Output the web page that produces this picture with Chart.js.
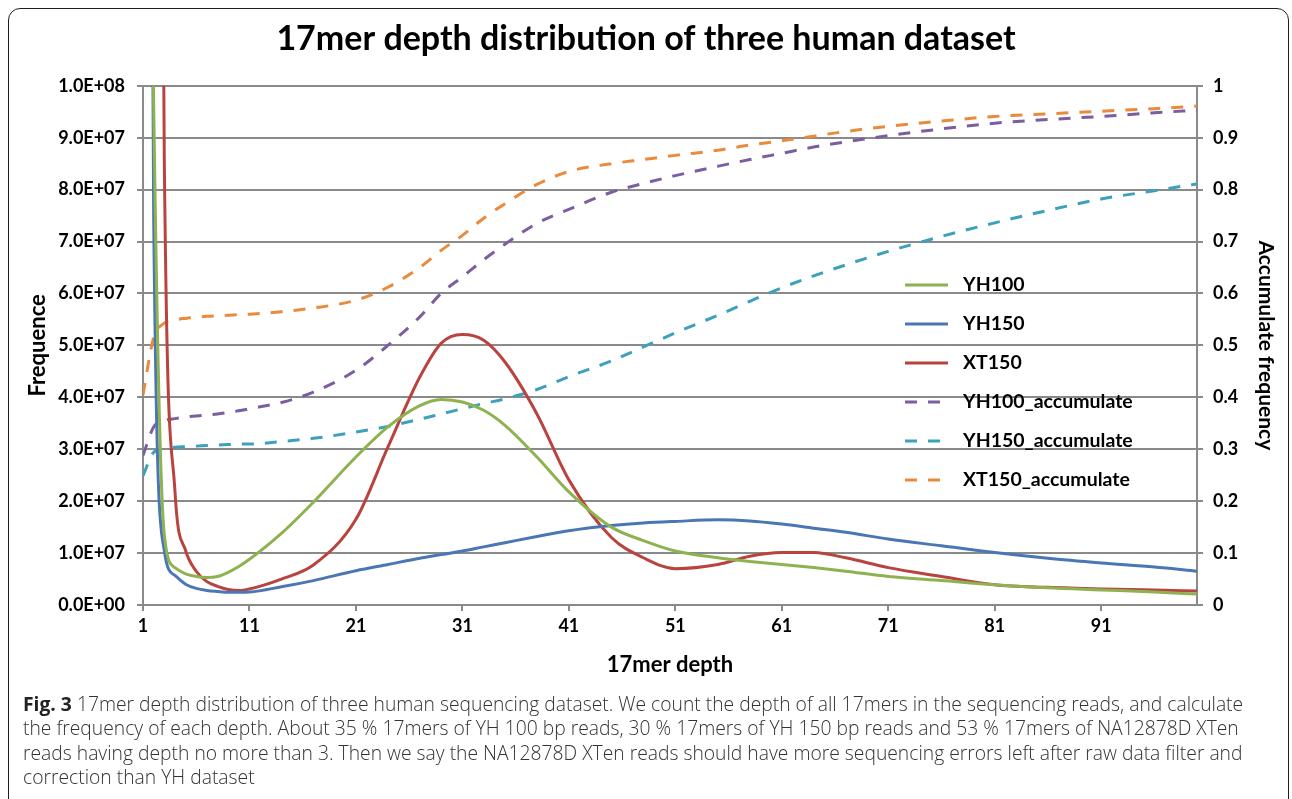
<!DOCTYPE html>
<html>
<head>
<meta charset="utf-8">
<title>17mer depth distribution</title>
<script src="https://cdn.jsdelivr.net/npm/chart.js@4.4.1/dist/chart.umd.min.js"></script>
<style>
    html, body { margin: 0; padding: 0; background: #fff; }
    body { width: 1292px; height: 799px; position: relative; overflow: hidden; }
    #frame {
        position: absolute; left: 8px; top: 8px; width: 1281px; height: 820px;
        border: 1.5px solid #231f20; border-radius: 12px 12px 0 0; box-sizing: border-box;
    }
    #chartBox { position: absolute; left: 0; top: 0; width: 1292px; height: 700px; }
    #caption {
        position: absolute; left: 23px; top: 692px;
        font-family: 'Open Sans', sans-serif; font-weight: 300; font-size: 19.3px;
        line-height: 24.3px; color: #333; white-space: nowrap;
    }
    #caption b { font-weight: 700; color: #222; }
</style>
</head>
<body>
<div id="frame"></div>
<div id="chartBox"><canvas id="depthChart" width="1292" height="700"></canvas></div>
<div id="caption">
    <b>Fig. 3</b> 17mer depth distribution of three human sequencing dataset. We count the depth of all 17mers in the sequencing reads, and calculate<br>
    the frequency of each depth. About 35 % 17mers of YH 100 bp reads, 30 % 17mers of YH 150 bp reads and 53 % 17mers of NA12878D XTen<br>
    reads having depth no more than 3. Then we say the NA12878D XTen reads should have more sequencing errors left after raw data filter and<br>
    correction than YH dataset
</div>
<script>
// Data (depth -> frequency / accumulated frequency)
const depth = [1, 2, 3, 4, 5, 6, 7, 8, 9, 10, 11, 14, 17, 21, 24, 27, 29, 31, 33, 35, 38,
    41, 45, 48, 51, 55, 58, 61, 64, 67, 71, 76, 81, 86, 91, 96, 100];

const yh100 = [3.0e8, 9.7e7, 1.35e7, 7.2e6, 6.0e6, 5.5e6, 5.3e6, 5.5e6, 6.3e6, 7.4e6,
    8.8e6, 1.38e7, 1.98e7, 2.85e7, 3.43e7, 3.84e7, 3.96e7, 3.91e7, 3.75e7, 3.46e7,
    2.85e7, 2.18e7, 1.5e7, 1.24e7, 1.04e7, 9.1e6, 8.4e6, 7.8e6, 7.2e6, 6.5e6,
    5.5e6, 4.7e6, 3.9e6, 3.3e6, 2.9e6, 2.5e6, 2.1e6];

const yh150 = [5.0e8, 7.5e7, 1.05e7, 5.7e6, 4.0e6, 3.2e6, 2.8e6, 2.6e6, 2.45e6, 2.45e6,
    2.5e6, 3.5e6, 4.7e6, 6.6e6, 7.8e6, 9.0e6, 9.7e6, 1.04e7, 1.12e7, 1.2e7,
    1.32e7, 1.43e7, 1.53e7, 1.58e7, 1.61e7, 1.64e7, 1.62e7, 1.56e7, 1.48e7, 1.4e7,
    1.27e7, 1.14e7, 1.01e7, 9.0e6, 8.1e6, 7.3e6, 6.5e6];

const xt150 = [8.0e8, 4.0e8, 8.6e7, 2.2e7, 1.05e7, 6.5e6, 4.5e6, 3.6e6, 3.0e6, 2.8e6,
    3.1e6, 5.0e6, 7.7e6, 1.65e7, 3.04e7, 4.39e7, 5.04e7, 5.21e7, 5.1e7, 4.68e7,
    3.68e7, 2.41e7, 1.3e7, 9.1e6, 7.0e6, 7.8e6, 9.4e6, 1.01e7, 1.01e7, 9.1e6,
    7.2e6, 5.5e6, 3.9e6, 3.4e6, 3.1e6, 2.9e6, 2.7e6];

const yh100Acc = [0.288, 0.343, 0.355, 0.359, 0.362, 0.364, 0.366, 0.368, 0.371, 0.374,
    0.378, 0.39, 0.41, 0.452, 0.5, 0.555, 0.6, 0.632, 0.665, 0.695,
    0.735, 0.762, 0.795, 0.812, 0.827, 0.845, 0.858, 0.87, 0.882, 0.892,
    0.904, 0.917, 0.928, 0.935, 0.941, 0.948, 0.953];

const yh150Acc = [0.249, 0.294, 0.301, 0.304, 0.305, 0.306, 0.307, 0.308, 0.309, 0.31,
    0.31, 0.315, 0.321, 0.333, 0.344, 0.358, 0.368, 0.378, 0.388, 0.397,
    0.415, 0.44, 0.47, 0.497, 0.524, 0.558, 0.585, 0.611, 0.634, 0.655,
    0.681, 0.71, 0.736, 0.76, 0.782, 0.798, 0.811];

const xt150Acc = [0.405, 0.515, 0.543, 0.549, 0.552, 0.554, 0.556, 0.557, 0.558, 0.559,
    0.56, 0.565, 0.572, 0.587, 0.612, 0.65, 0.683, 0.712, 0.745, 0.773,
    0.81, 0.835, 0.85, 0.858, 0.866, 0.876, 0.886, 0.894, 0.903, 0.912,
    0.922, 0.932, 0.941, 0.946, 0.951, 0.956, 0.961];

const xTicks = [1, 11, 21, 31, 41, 51, 61, 71, 81, 91];

const FONT = 'Lato, "Open Sans", sans-serif';
const GRID = '#8a8a8a';

function pairs(values) {
    return depth.map((d, i) => ({ x: d, y: values[i] }));
}

// Excel style "1.0E+08"
function sciLabel(v) {
    const parts = Number(v).toExponential(1).split('e');
    const exp = parts[1];
    return parts[0] + 'E' + exp[0] + exp.slice(1).padStart(2, '0');
}

function series(label, values, color, axis, dashed) {
    return {
        label: label,
        data: pairs(values),
        borderColor: color,
        backgroundColor: color,
        borderWidth: 3,
        borderDash: dashed ? [12, 11] : [],
        yAxisID: axis,
        pointRadius: 0,
        pointHoverRadius: 0,
        cubicInterpolationMode: 'monotone',
        fill: false
    };
}

// Legend drawn inside the plot area, like the original
const insideLegend = {
    id: 'insideLegend',
    afterDraw(chart) {
        const c = chart.ctx;
        const x0 = 905, y0 = 285, step = 39;
        c.save();
        chart.data.datasets.forEach((ds, i) => {
            const y = y0 + i * step;
            c.strokeStyle = ds.borderColor;
            c.lineWidth = 3;
            c.setLineDash(ds.borderDash.length ? [12, 11] : []);
            c.beginPath();
            c.moveTo(x0, y);
            c.lineTo(ds.borderDash.length ? 951 : 948, y);
            c.stroke();
            c.setLineDash([]);
            c.fillStyle = '#000';
            c.font = 'bold 19.5px ' + FONT;
            c.textBaseline = 'middle';
            c.textAlign = 'left';
            c.fillText(ds.label, 963, y);
        });
        c.restore();
    }
};

const ctx = document.getElementById('depthChart').getContext('2d');
const depthChart = new Chart(ctx, {
    type: 'line',
    data: {
        datasets: [
            series('YH100', yh100, '#8fb250', 'yFreq', false),
            series('YH150', yh150, '#4a77b4', 'yFreq', false),
            series('XT150', xt150, '#b8433f', 'yFreq', false),
            series('YH100_accumulate', yh100Acc, '#7b5ea0', 'yAcc', true),
            series('YH150_accumulate', yh150Acc, '#3da0bd', 'yAcc', true),
            series('XT150_accumulate', xt150Acc, '#ea8a3c', 'yAcc', true)
        ]
    },
    options: {
        responsive: false,
        animation: false,
        events: [],
        layout: { padding: { left: 0, right: 0, top: 0, bottom: 0 } },
        plugins: {
            legend: { display: false },
            tooltip: { enabled: false },
            title: {
                display: true,
                text: '17mer depth distribution of three human dataset',
                color: '#000',
                font: { family: FONT, size: 34, weight: 'bold' },
                padding: { top: 19, bottom: 26 }
            }
        },
        scales: {
            x: {
                type: 'linear',
                min: 1,
                max: 100,
                afterBuildTicks: axis => { axis.ticks = xTicks.map(v => ({ value: v })); },
                afterFit: axis => { axis.height = 95; },
                grid: { display: true, drawOnChartArea: false, drawTicks: true, tickLength: 6, color: GRID, lineWidth: 2 },
                border: { display: true, color: GRID, width: 2 },
                ticks: {
                    color: '#000',
                    padding: 4,
                    maxRotation: 0,
                    font: { family: FONT, size: 18, weight: 'bold' },
                    callback: v => String(v)
                },
                title: {
                    display: true,
                    text: '17mer depth',
                    color: '#000',
                    font: { family: FONT, size: 22, weight: 'bold' },
                    padding: { top: 0, bottom: 22 }
                }
            },
            yFreq: {
                type: 'linear',
                position: 'left',
                min: 0,
                max: 1e8,
                afterFit: axis => { axis.width = 143; },
                grid: { color: GRID, lineWidth: 2, tickLength: 6 },
                border: { display: true, color: GRID, width: 2 },
                ticks: {
                    stepSize: 1e7,
                    color: '#000',
                    padding: 12,
                    font: { family: FONT, size: 18, weight: 'bold' },
                    callback: v => sciLabel(v)
                },
                title: {
                    display: true,
                    text: 'Frequence',
                    color: '#000',
                    font: { family: FONT, size: 22, weight: 'bold' },
                    padding: { top: 25, bottom: 0 }
                }
            },
            yAcc: {
                type: 'linear',
                position: 'right',
                min: 0,
                max: 1,
                afterFit: axis => { axis.width = 95; },
                grid: { drawOnChartArea: false, color: GRID, lineWidth: 2, tickLength: 6 },
                border: { display: true, color: GRID, width: 2 },
                ticks: {
                    stepSize: 0.1,
                    color: '#000',
                    padding: 10,
                    font: { family: FONT, size: 18, weight: 'bold' },
                    callback: v => String(Math.round(v * 10) / 10)
                },
                title: {
                    display: true,
                    text: 'Accumulate frequency',
                    color: '#000',
                    font: { family: FONT, size: 21, weight: 'bold' },
                    padding: { top: 14, bottom: 0 }
                }
            }
        }
    },
    plugins: [insideLegend]
});
</script>
</body>
</html>
